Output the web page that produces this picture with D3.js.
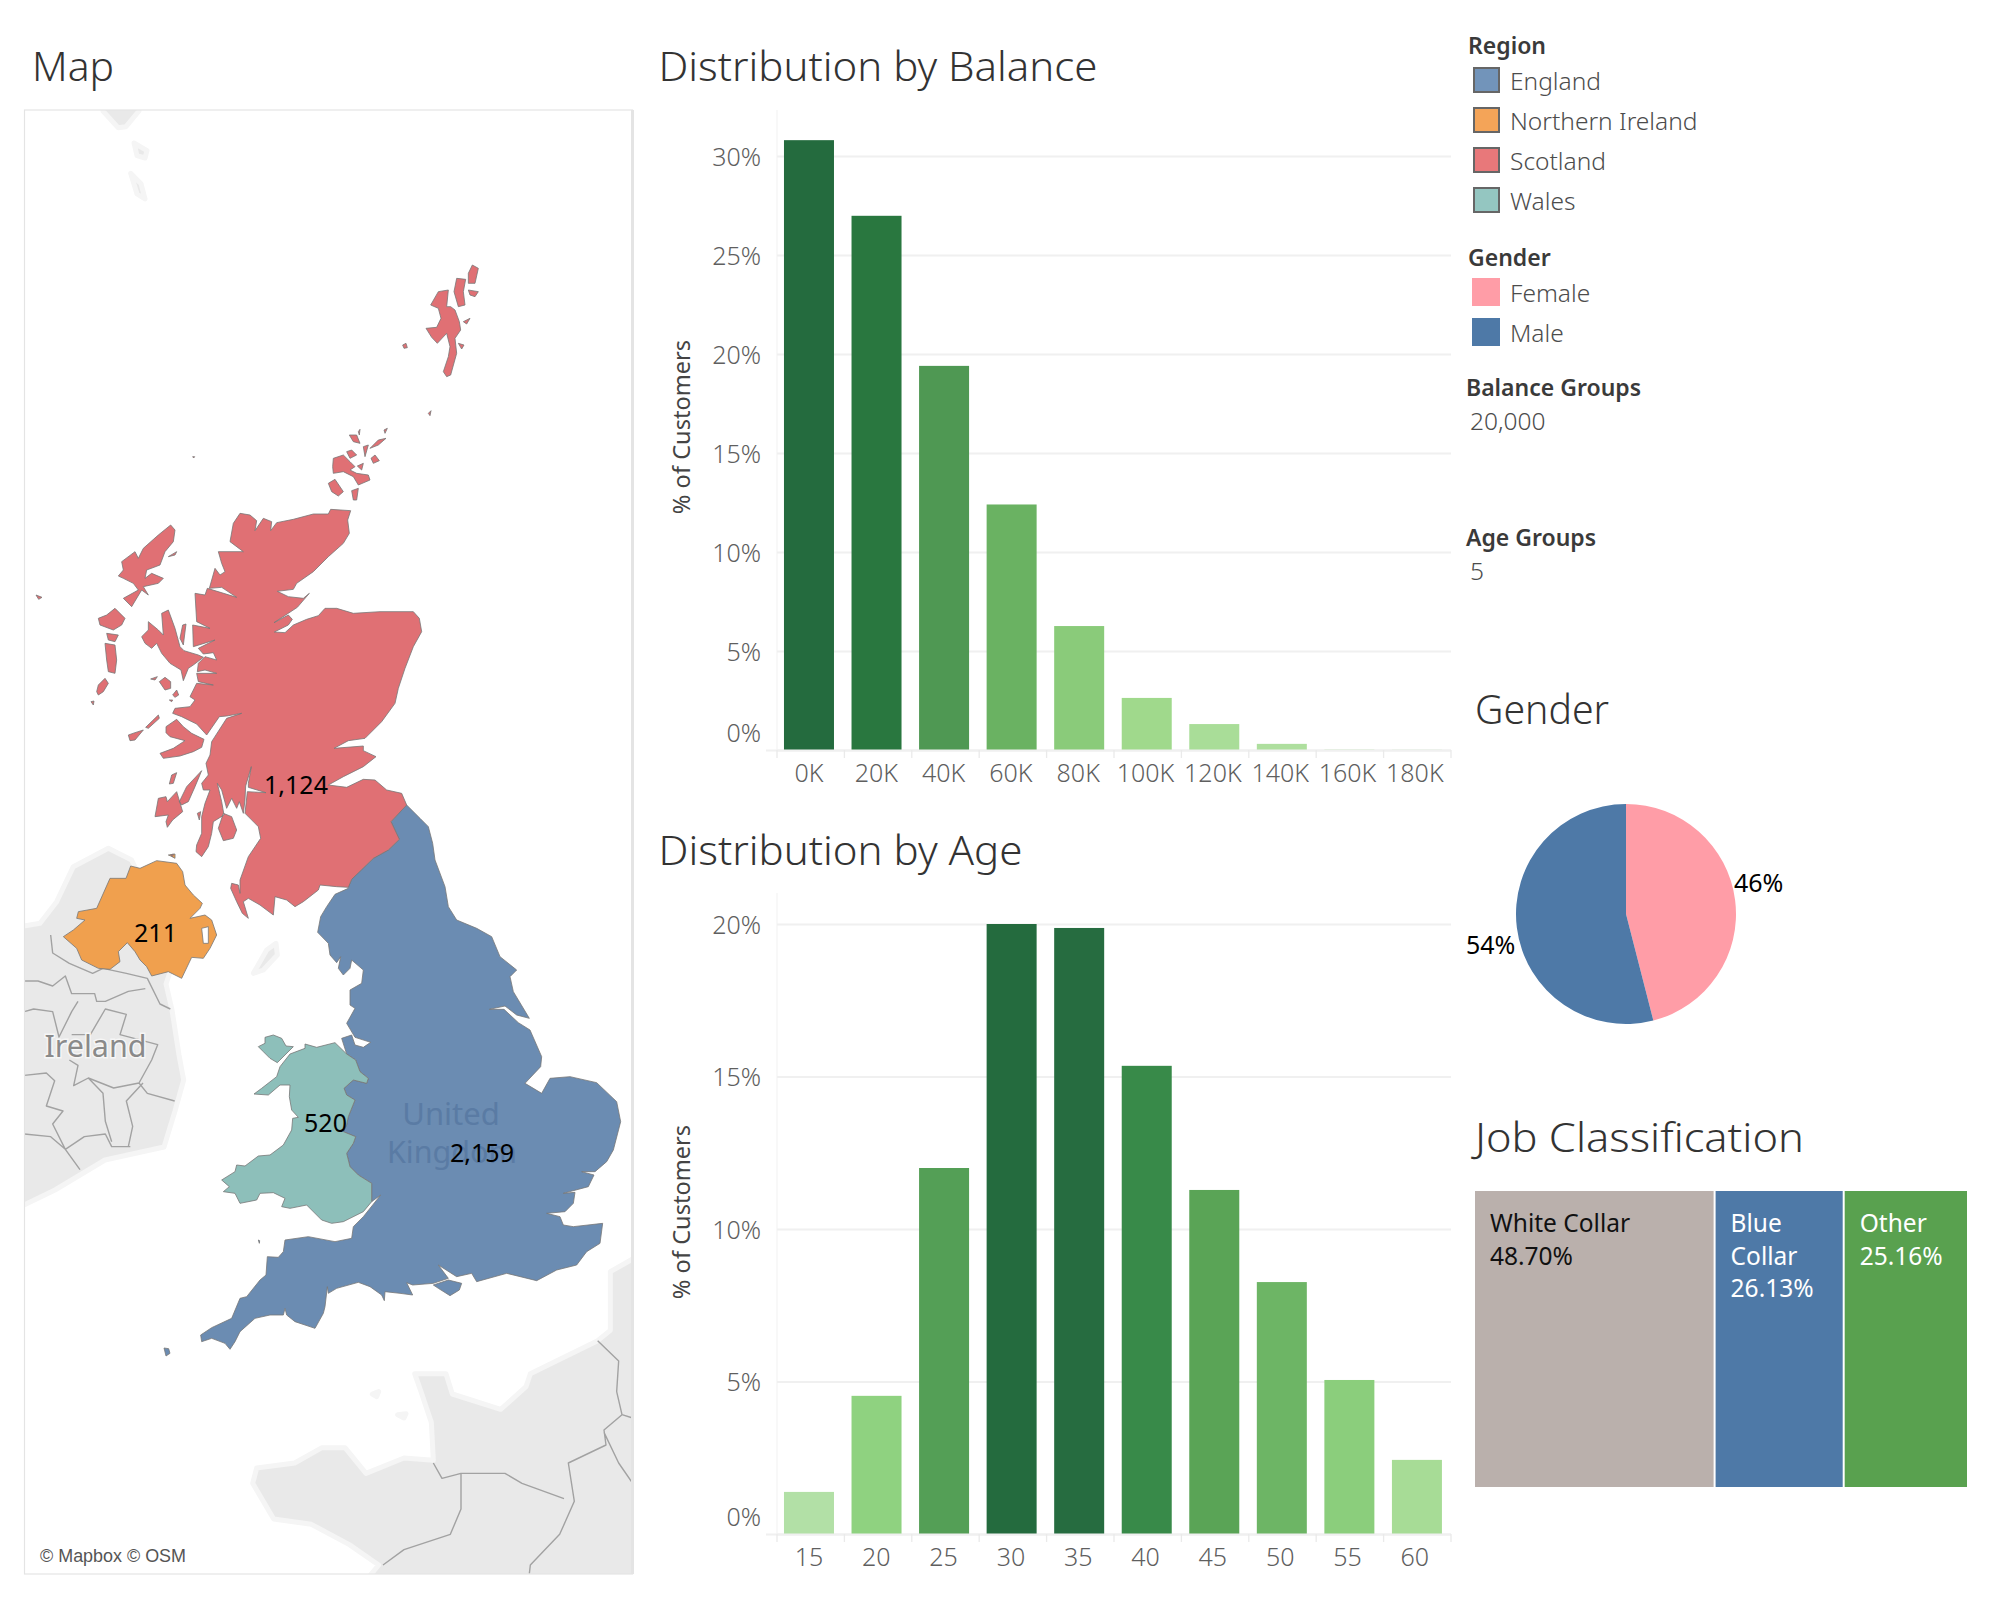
<!DOCTYPE html>
<html>
<head>
<meta charset="utf-8">
<title>Customer dashboard</title>
<script src="https://cdn.jsdelivr.net/npm/d3@7"></script>
<style>
html,body{margin:0;padding:0;background:#fff}
svg{display:block}
text{font-family:"Noto Sans",sans-serif}
</style>
</head>
<body>
<svg id="chart" width="2000" height="1600"></svg>
<script>
// ---- bar data ----
const balanceCategories = ["0K","20K","40K","60K","80K","100K","120K","140K","160K","180K"];
const balanceValues = [30.8,26.98,19.4,12.4,6.26,2.63,1.31,0.31,0.02,0.01];
const balanceColors = ["#246b3e","#29773f","#4f9853","#6ab262","#8acb7a","#a0d98c","#a9dd98","#aedf9e","#b2e0a6","#b2e0a6"];
const balanceTicks = [0,5,10,15,20,25,30];
const ageCategories = ["15","20","25","30","35","40","45","50","55","60"];
const ageValues = [1.38,4.53,12.0,20.0,19.87,15.35,11.28,8.26,5.05,2.43];
const ageColors = ["#b2e0a6","#8fd280","#549f56","#246b3e","#266c40","#388a49","#5aa456","#6db565","#8bce7c","#a7dc96"];
const ageTicks = [0,5,10,15,20];

// ---- gender and job data ----
const genderNames = ["Female","Male"];
const genderValues = [46,54];
const genderColors = ["#ff9da7","#4e79a7"];
const jobNames = ["White Collar","Blue Collar","Other"];
const jobValues = [48.70,26.13,25.16];
const jobColors = ["#bab0ac","#4e79a7","#59a14f"];
const jobTextColors = ["#111","#fff","#fff"];
const jobLines = [["White Collar","48.70%"],["Blue","Collar","26.13%"],["Other","25.16%"]];

// ---- legends ----
const regionNames = ["England","Northern Ireland","Scotland","Wales"];
const regionColors = ["#7294ba","#f4a458","#e8787a","#94c6c1"];
const regionMapColors = ["#6b8cb2","#f0a04e","#e07074","#8dbfba"];
const regionCounts = ["2,159","211","1,124","520"];

// ---- map outlines: [east, north] on a Web-Mercator grid, roughly 0.66 km per unit ----
const englandRings = [
 [[-346,1605],[-306,1565],[-281,1540],[-268,1490],[-261,1440],[-231,1360],[-221,1300],[-196,1260],[-136,1235],[-91,1210],[-66,1150],[-16,1110],[-36,1090],[-26,1045],[22,965],[-16,975],[-51,1002],[-98,992],[-54,992],[-11,952],[24,930],[59,850],[56,820],[9,770],[59,740],[84,785],[144,790],[224,772],[284,715],[296,655],[274,570],[254,535],[219,505],[179,505],[216,495],[199,460],[124,440],[159,443],[154,410],[129,385],[74,380],[114,370],[124,345],[154,340],[242,350],[234,290],[194,265],[164,225],[104,210],[44,178],[-46,200],[-136,175],[-151,200],[-196,190],[-251,225],[-221,185],[-266,170],[-328,165],[-346,172],[-328,135],[-366,140],[-411,145],[-413,118],[-421,135],[-456,160],[-491,173],[-556,155],[-581,140],[-584,160],[-591,100],[-596,80],[-621,35],[-651,45],[-681,55],[-706,75],[-711,95],[-716,75],[-756,75],[-801,65],[-846,25],[-861,-5],[-876,-28],[-891,-10],[-931,5],[-961,-5],[-964,15],[-931,37],[-871,65],[-846,125],[-826,130],[-786,180],[-768,195],[-764,250],[-731,248],[-716,265],[-711,300],[-641,310],[-561,295],[-511,305],[-506,340],[-476,370],[-424,435],[-451,415],[-451,470],[-491,495],[-516,520],[-526,560],[-506,590],[-499,610],[-536,625],[-526,645],[-521,670],[-501,720],[-526,735],[-534,755],[-506,780],[-466,770],[-461,785],[-486,805],[-499,840],[-526,858],[-541,905],[-511,915],[-501,885],[-476,878],[-454,893],[-501,908],[-526,950],[-501,995],[-516,1005],[-516,1050],[-481,1070],[-476,1110],[-511,1140],[-516,1115],[-536,1095],[-551,1115],[-544,1150],[-556,1132],[-576,1155],[-581,1190],[-613,1223],[-604,1270],[-586,1300],[-561,1337],[-521,1355],[-521,1358],[-511,1382],[-446,1445],[-401,1470],[-368,1502],[-393,1555]],
 [[-266,165],[-221,180],[-181,170],[-188,150],[-216,133],[-251,155]],
 [[-791,300],[-787,298],[-788,290]],
 [[-1074,-24],[-1060,-26],[-1056,-40],[-1068,-48]]
];
const northernIrelandRings = [
 [[-1376,1210],[-1346,1230],[-1311,1260],[-1336,1265],[-1331,1285],[-1276,1295],[-1236,1385],[-1188,1385],[-1174,1422],[-1146,1415],[-1096,1438],[-1036,1430],[-1018,1405],[-1011,1365],[-986,1335],[-959,1310],[-966,1295],[-996,1265],[-951,1275],[-931,1260],[-916,1215],[-936,1175],[-956,1145],[-991,1148],[-1021,1085],[-1061,1105],[-1111,1092],[-1126,1120],[-1146,1140],[-1161,1165],[-1184,1192],[-1211,1165],[-1206,1135],[-1236,1112],[-1271,1115],[-1321,1140],[-1336,1175]],
 [[-1061,1455],[-1041,1458],[-1041,1445],[-1054,1452]]
];
const strangfordHole = [[-961,1235],[-941,1240],[-941,1190],[-956,1190]];
const scotlandRings = [
 [[-846,2480],[-816,2475],[-796,2458],[-801,2428],[-776,2465],[-751,2455],[-754,2428],[-736,2452],[-686,2462],[-626,2478],[-581,2478],[-574,2492],[-514,2488],[-523,2460],[-518,2420],[-536,2390],[-581,2350],[-626,2305],[-676,2270],[-686,2252],[-734,2246],[-701,2230],[-656,2225],[-638,2240],[-674,2198],[-744,2152],[-701,2175],[-689,2162],[-701,2145],[-743,2124],[-711,2122],[-686,2145],[-646,2162],[-611,2173],[-591,2195],[-556,2195],[-506,2180],[-426,2185],[-366,2185],[-326,2185],[-308,2165],[-301,2125],[-326,2080],[-351,2015],[-371,1955],[-381,1910],[-421,1855],[-471,1805],[-521,1798],[-564,1775],[-476,1782],[-476,1768],[-438,1750],[-476,1720],[-536,1690],[-581,1665],[-526,1658],[-476,1682],[-441,1680],[-406,1650],[-361,1640],[-346,1605],[-393,1555],[-368,1502],[-401,1470],[-446,1445],[-511,1382],[-521,1358],[-556,1360],[-606,1365],[-611,1350],[-656,1315],[-681,1300],[-706,1320],[-741,1330],[-746,1275],[-786,1305],[-821,1325],[-836,1315],[-821,1265],[-839,1280],[-856,1315],[-874,1355],[-871,1370],[-851,1365],[-846,1340],[-846,1380],[-821,1450],[-784,1505],[-791,1540],[-831,1580],[-824,1645],[-768,1642],[-821,1658],[-821,1670],[-812,1720],[-829,1662],[-831,1620],[-836,1580],[-848,1615],[-856,1595],[-871,1625],[-886,1595],[-901,1650],[-914,1670],[-901,1615],[-894,1575],[-926,1555],[-931,1520],[-941,1480],[-961,1450],[-978,1465],[-976,1485],[-961,1520],[-961,1570],[-951,1610],[-936,1650],[-956,1650],[-961,1670],[-941,1695],[-948,1730],[-936,1755],[-931,1795],[-886,1865],[-841,1880],[-886,1872],[-908,1870],[-946,1815],[-976,1848],[-1001,1860],[-1021,1870],[-1048,1880],[-1041,1895],[-996,1900],[-981,1920],[-996,1930],[-976,1970],[-926,1965],[-971,1975],[-976,2000],[-916,2000],[-951,2010],[-974,2005],[-971,2030],[-951,2050],[-916,2040],[-926,2062],[-956,2058],[-971,2075],[-941,2090],[-921,2100],[-986,2080],[-988,2145],[-936,2135],[-976,2155],[-981,2240],[-951,2235],[-944,2255],[-856,2228],[-901,2258],[-938,2255],[-921,2315],[-906,2295],[-891,2305],[-901,2330],[-911,2365],[-836,2365],[-876,2395],[-866,2450]],
 [[-1141,2110],[-1121,2130],[-1121,2155],[-1091,2130],[-1076,2115],[-1081,2180],[-1061,2190],[-1041,2135],[-1026,2080],[-1014,2068],[-971,2055],[-956,2048],[-986,2025],[-1001,2015],[-1016,1978],[-1023,2010],[-1056,2030],[-1081,2060],[-1096,2090],[-1111,2075],[-1131,2090]],
 [[-1018,2145],[-1008,2148],[-1016,2085],[-1026,2105]],
 [[-1088,1975],[-1071,1988],[-1054,1975],[-1054,1955],[-1071,1950]],
 [[-1114,1983],[-1094,1990],[-1101,1980]],
 [[-1048,1935],[-1036,1950],[-1030,1935],[-1041,1928]],
 [[-1058,1920],[-1048,1920],[-1051,1915]],
 [[-1129,1838],[-1091,1875],[-1088,1865],[-1121,1835]],
 [[-1181,1815],[-1161,1822],[-1136,1830],[-1161,1800],[-1176,1798]],
 [[-1068,1840],[-1036,1862],[-1016,1840],[-991,1820],[-954,1802],[-961,1778],[-986,1765],[-1026,1752],[-1076,1745],[-1086,1760],[-1046,1775],[-1011,1798],[-1056,1810],[-1068,1822]],
 [[-1058,1668],[-1051,1695],[-1036,1702],[-1046,1670]],
 [[-1101,1570],[-1091,1625],[-1068,1630],[-1064,1615],[-1036,1645],[-1018,1585],[-1048,1560],[-1064,1538],[-1068,1555],[-1061,1575]],
 [[-1028,1615],[-1006,1660],[-961,1708],[-981,1660],[-1001,1615],[-1021,1605]],
 [[-974,1580],[-964,1585],[-968,1560]],
 [[-911,1535],[-896,1580],[-871,1570],[-856,1530],[-866,1505],[-896,1498]],
 [[-1054,1455],[-1046,1458],[-1048,1450]],
 [[-1054,2445],[-1041,2430],[-1046,2395],[-1071,2365],[-1086,2325],[-1126,2310],[-1131,2285],[-1111,2300],[-1076,2285],[-1091,2270],[-1136,2260],[-1121,2235],[-1141,2250],[-1171,2200],[-1196,2225],[-1151,2250],[-1166,2270],[-1196,2285],[-1211,2292],[-1196,2310],[-1201,2335],[-1161,2365],[-1151,2345],[-1136,2375],[-1091,2415]],
 [[-1061,2350],[-1036,2365],[-1041,2355]],
 [[-1271,2165],[-1246,2175],[-1221,2195],[-1191,2165],[-1201,2145],[-1226,2130],[-1266,2145]],
 [[-1246,2120],[-1211,2115],[-1221,2095],[-1241,2100]],
 [[-1251,2090],[-1221,2085],[-1216,2040],[-1221,2000],[-1241,2005],[-1246,2040]],
 [[-1276,1945],[-1271,1965],[-1251,1985],[-1241,1970],[-1256,1945],[-1271,1935]],
 [[-1293,1915],[-1284,1917],[-1286,1905]],
 [[-1458,2235],[-1440,2228],[-1450,2222]],
 [[-288,3035],[-256,3038],[-243,3065],[-251,3095],[-274,3105],[-251,3145],[-221,3150],[-226,3100],[-214,3100],[-201,3090],[-188,3055],[-184,3030],[-201,3005],[-196,2960],[-214,2895],[-226,2890],[-236,2905],[-221,2950],[-216,2980],[-226,3020],[-254,2990],[-271,3008]],
 [[-196,3185],[-169,3182],[-176,3145],[-171,3105],[-191,3100],[-204,3145]],
 [[-161,3200],[-149,3225],[-131,3215],[-141,3170],[-161,3170]],
 [[-161,3150],[-131,3145],[-141,3130],[-156,3135]],
 [[-176,3055],[-156,3065],[-166,3048]],
 [[-191,2990],[-174,2985],[-181,2973]],
 [[-358,2985],[-348,2990],[-344,2977],[-354,2975]],
 [[-281,2780],[-273,2788],[-276,2773]],
 [[-566,2645],[-536,2655],[-516,2635],[-501,2620],[-516,2610],[-496,2600],[-461,2595],[-456,2580],[-491,2565],[-506,2590],[-536,2605],[-566,2600],[-568,2620]],
 [[-581,2570],[-561,2582],[-536,2545],[-551,2532],[-571,2545]],
 [[-511,2548],[-491,2555],[-496,2520],[-506,2520]],
 [[-526,2665],[-511,2670],[-496,2655],[-516,2645]],
 [[-518,2715],[-496,2715],[-486,2690],[-506,2695]],
 [[-491,2725],[-486,2732],[-488,2715]],
 [[-456,2675],[-431,2700],[-408,2705],[-431,2685]],
 [[-453,2645],[-441,2655],[-428,2638],[-446,2630]],
 [[-476,2680],[-461,2685],[-471,2650]],
 [[-494,2622],[-476,2630],[-481,2610]],
 [[-414,2730],[-404,2735],[-411,2720]],
 [[-988,2650],[-982,2650],[-985,2646]]
];
const walesRings = [
 [[-804,738],[-781,755],[-736,790],[-726,820],[-696,858],[-651,875],[-651,888],[-616,878],[-561,892],[-526,858],[-499,840],[-486,805],[-461,785],[-466,770],[-506,780],[-534,755],[-526,735],[-501,720],[-521,670],[-526,645],[-536,625],[-499,610],[-506,590],[-526,560],[-516,520],[-491,495],[-451,470],[-451,415],[-476,385],[-516,365],[-536,355],[-571,350],[-601,360],[-646,405],[-696,395],[-721,400],[-711,425],[-746,442],[-786,440],[-796,420],[-846,410],[-861,440],[-896,445],[-878,460],[-901,480],[-861,505],[-856,525],[-831,522],[-791,552],[-756,555],[-716,585],[-691,630],[-688,665],[-671,668],[-691,690],[-698,730],[-696,765],[-726,765],[-761,735]],
 [[-791,880],[-771,890],[-771,908],[-746,915],[-721,905],[-708,882],[-686,880],[-734,832],[-756,845],[-776,865]]
];
const backgroundLand = [
 [[-1566,1230],[-1446,1250],[-1396,1315],[-1346,1420],[-1241,1475],[-1171,1440],[-1116,1320],[-1086,1170],[-1056,1104],[-1068,1068],[-1050,990],[-1029,855],[-1015,780],[-1041,687],[-1074,579],[-1251,540],[-1401,450],[-1494,405],[-1566,375]],
 [[-806,1100],[-766,1170],[-738,1190],[-734,1155],[-776,1110]],
 [[454,243],[332,243],[265,205],[265,29],[227,-2],[25,-101],[12,-140],[-64,-208],[-209,-162],[-228,-101],[-322,-101],[-303,-155],[-272,-247],[-266,-361],[-354,-354],[-468,-400],[-531,-323],[-600,-323],[-682,-369],[-796,-384],[-808,-430],[-745,-537],[-632,-553],[-518,-614],[-430,-675],[-556,-828],[454,-828]],
 [[-449,-162],[-430,-155],[-436,-170]],
 [[-373,-224],[-348,-221],[-354,-234]],
 [[-1257,3700],[-1257,3687],[-1212,3637],[-1188,3640],[-1149,3687],[-1149,3700]],
 [[-1164,3591],[-1125,3568],[-1131,3546],[-1155,3553]],
 [[-1174,3500],[-1143,3469],[-1131,3423],[-1155,3438]]
];
const borderLines = [
 [[-1414,1215],[-1408,1161],[-1358,1130],[-1288,1100],[-1257,1115],[-1187,1100],[-1124,1085],[-1086,1008],[-1055,993]],
 [[-1493,1077],[-1452,1077],[-1408,1062],[-1370,1092],[-1351,1039],[-1282,1039],[-1276,1016],[-1250,1016],[-1181,1046],[-1130,1054]],
 [[-1493,985],[-1465,993],[-1408,985],[-1389,909],[-1351,985],[-1332,1016]],
 [[-1351,916],[-1295,916],[-1250,993],[-1187,977],[-1206,916],[-1093,886],[-1111,840],[-1149,771],[-1124,740],[-1042,717]],
 [[-1493,794],[-1427,801],[-1402,778],[-1427,702],[-1377,687],[-1408,648],[-1370,572],[-1326,511]],
 [[-1493,618],[-1414,610],[-1370,572],[-1313,610],[-1250,618],[-1231,580],[-1175,580]],
 [[-1358,840],[-1332,824],[-1345,763],[-1301,786],[-1257,740],[-1250,656],[-1231,595]],
 [[-1137,771],[-1187,717],[-1168,641],[-1181,580]],
 [[-1301,786],[-1225,756],[-1149,771]],
 [[227,-2],[290,-63],[284,-155],[300,-224],[246,-270],[252,-315],[139,-369],[157,-484],[113,-583],[25,-675],[22,-701]],
 [[-266,-369],[-240,-415],[-183,-400],[-51,-400],[0,-430],[126,-476]],
 [[-183,-400],[-183,-507],[-215,-583],[-354,-629],[-417,-675]],
 [[246,-277],[290,-369],[332,-430]],
 [[300,-224],[332,-234]]
];

const svg = d3.select("#chart");
const titleColor = "#333";
const axisText = "#5f5f5f";
const gridColor = "#f0f0f0";

function title(txt, x, y, len) {
  const t = svg.append("text").attr("x", x).attr("y", y).attr("font-size", 40).attr("font-weight", 300).attr("fill", titleColor).text(txt);
  if (len) t.attr("textLength", len).attr("lengthAdjust", "spacingAndGlyphs");
}

// ---- Map ----
title("Map", 32, 80.5, 82);
const mapBox = {x: 24.5, y: 110, w: 608, h: 1464};
svg.append("clipPath").attr("id", "mapClip").append("rect")
  .attr("x", mapBox.x).attr("y", mapBox.y).attr("width", mapBox.w).attr("height", mapBox.h);
const map = svg.append("g").attr("clip-path", "url(#mapClip)");
const projection = d3.geoIdentity().reflectY(true).scale(1 / 3).translate([522, 1340]);
const geoPath = d3.geoPath(projection);
const closeRing = r => r.concat([r[0]]);
const asMulti = rings => ({type: "MultiPolygon", coordinates: rings.map(r => [closeRing(r)])});

map.append("path").datum(asMulti(backgroundLand)).attr("d", geoPath)
  .attr("fill", "#e9e9e9").attr("stroke", "#f5f5f5").attr("stroke-width", 5).attr("stroke-linejoin", "round");
map.append("path").datum({type: "MultiLineString", coordinates: borderLines}).attr("d", geoPath)
  .attr("fill", "none").attr("stroke", "#a2a2a2").attr("stroke-width", 1.4).attr("stroke-linejoin", "round");

const niPolys = northernIrelandRings.map((r, i) => i === 0 ? [closeRing(r), closeRing(strangfordHole)] : [closeRing(r)]);
const regionGeo = [
  asMulti(englandRings),
  {type: "MultiPolygon", coordinates: niPolys},
  asMulti(scotlandRings),
  asMulti(walesRings)
];
map.selectAll("path.region").data(regionGeo).join("path").attr("class", "region")
  .attr("d", geoPath).attr("fill", (d, i) => regionMapColors[i])
  .attr("fill-rule", "evenodd").attr("stroke", "#777").attr("stroke-width", 0.8).attr("stroke-linejoin", "round");

// base map place names
map.append("text").attr("x", 95.5).attr("y", 1057).attr("text-anchor", "middle").attr("font-size", 30.5)
  .attr("fill", "#8a8a8a").attr("stroke", "#f6f6f6").attr("stroke-width", 3).attr("paint-order", "stroke").text("Ireland");
map.append("text").attr("x", 451).attr("y", 1125).attr("text-anchor", "middle").attr("font-size", 31)
  .attr("fill", "#5a7ba4").text("United");
map.append("text").attr("x", 452).attr("y", 1163).attr("text-anchor", "middle").attr("font-size", 30.5)
  .attr("fill", "#5a7ba4").text("Kingdom");

// region counts
const countPositions = [[482,1162],[155.5,942],[296,793.5],[325.5,1132]];
map.selectAll("text.count").data(regionCounts).join("text").attr("class", "count")
  .attr("x", (d, i) => countPositions[i][0]).attr("y", (d, i) => countPositions[i][1])
  .attr("text-anchor", "middle").attr("font-size", 25).attr("fill", "#000").text(d => d);

map.append("rect").attr("x", 32).attr("y", 1544).attr("width", 162).attr("height", 24).attr("fill", "#fff").attr("fill-opacity", 0.7);
map.append("text").attr("x", 40).attr("y", 1562).attr("font-size", 17.5).attr("fill", "#555")
  .attr("textLength", 146).attr("lengthAdjust", "spacingAndGlyphs")
  .style("font-family", "'Liberation Sans',Arial,sans-serif").text("© Mapbox © OSM");

// map frame
svg.append("rect").attr("x", mapBox.x).attr("y", mapBox.y).attr("width", mapBox.w).attr("height", mapBox.h)
  .attr("fill", "none").attr("stroke", "#e4e4e4").attr("stroke-width", 1.2);
svg.append("line").attr("x1", mapBox.x + mapBox.w).attr("x2", mapBox.x + mapBox.w).attr("y1", mapBox.y).attr("y2", mapBox.y + mapBox.h)
  .attr("stroke", "#e4e4e4").attr("stroke-width", 3);

// ---- Bar charts ----
function barChart(opts) {
  const {categories, values, colors, ticks, yMax, y0, yTop, panelTop, titleText, titleY, axisTitleY, titleLen} = opts;
  title(titleText, 658.5, titleY, titleLen);
  const x = d3.scaleBand().domain(categories).range([775.2, 1450.7]).paddingInner(0.2598).paddingOuter(0.1299);
  const xLabel = d3.scaleBand().domain(categories).range([775.3, 1448.5]);
  const y = d3.scaleLinear().domain([0, yMax]).range([y0, yTop]);
  const left = 777, right = 1451;
  const g = svg.append("g");

  // vertical axis line behind marks
  g.append("line").attr("x1", left).attr("x2", left).attr("y1", panelTop).attr("y2", y0).attr("stroke", "#f5f5f5").attr("stroke-width", 1.3);

  const yAxis = d3.axisLeft(y).tickValues(ticks).tickFormat(d => d + "%").tickSize(-(right - left)).tickPadding(16);
  const ya = g.append("g").attr("transform", `translate(${left},0)`).call(yAxis);
  ya.select(".domain").remove();
  ya.selectAll(".tick line").attr("stroke", gridColor).attr("stroke-width", 2);
  ya.selectAll(".tick text").attr("font-size", 25).attr("font-weight", 300).attr("fill", axisText)
    .style("font-family", "'Noto Sans',sans-serif")
    .attr("dy", d => d === 0 ? "-9px" : "9px");

  g.selectAll("rect.bar").data(values).join("rect").attr("class", "bar")
    .attr("x", (d, i) => x(categories[i])).attr("width", x.bandwidth())
    .attr("y", d => y(d)).attr("height", d => y0 - y(d))
    .attr("fill", (d, i) => colors[i]);

  // zero line and category ticks over the bars
  g.append("line").attr("x1", 766).attr("x2", right).attr("y1", y0 + 0.5).attr("y2", y0 + 0.5)
    .attr("stroke", gridColor).attr("stroke-width", 2);
  g.selectAll("line.edge").data(d3.range(categories.length + 1)).join("line").attr("class", "edge")
    .attr("x1", i => left + i * (right - left) / categories.length).attr("x2", i => left + i * (right - left) / categories.length)
    .attr("y1", y0).attr("y2", y0 + 8).attr("stroke", "#eaeaea").attr("stroke-width", 1.3);

  const xAxis = d3.axisBottom(xLabel).tickSize(0);
  const xa = g.append("g").attr("transform", `translate(0,${y0})`).call(xAxis);
  xa.select(".domain").remove();
  xa.selectAll(".tick text").attr("font-size", 25).attr("font-weight", 300).attr("fill", axisText)
    .style("font-family", "'Noto Sans',sans-serif").attr("y", 32).attr("dy", 0);

  svg.append("text").attr("transform", `translate(690,${axisTitleY}) rotate(-90)`)
    .attr("text-anchor", "middle").attr("font-size", 23.6).attr("fill", "#444").text("% of Customers");
}

barChart({categories: balanceCategories, values: balanceValues, colors: balanceColors, ticks: balanceTicks,
  yMax: 30, y0: 750, yTop: 156, panelTop: 110, titleText: "Distribution by Balance", titleY: 80.5, axisTitleY: 427, titleLen: 439});
barChart({categories: ageCategories, values: ageValues, colors: ageColors, ticks: ageTicks,
  yMax: 20, y0: 1534, yTop: 924, panelTop: 893, titleText: "Distribution by Age", titleY: 864.5, axisTitleY: 1212, titleLen: 364});

// ---- Legends ----
function legendHead(txt, x, y) {
  svg.append("text").attr("x", x).attr("y", y).attr("font-size", 23).attr("font-weight", 600).attr("fill", "#3a3a3a").text(txt);
}
function legendItem(txt, x, y) {
  svg.append("text").attr("x", x).attr("y", y).attr("font-size", 24.5).attr("font-weight", 300).attr("fill", "#4c4c4c").text(txt);
}
legendHead("Region", 1468, 53.5);
const regionRowY = d3.scaleLinear().domain([0, 3]).range([68, 188]);
svg.selectAll("rect.regionSwatch").data(regionNames).join("rect").attr("class", "regionSwatch")
  .attr("x", 1474).attr("y", (d, i) => regionRowY(i)).attr("width", 25).attr("height", 24)
  .attr("fill", (d, i) => regionColors[i]).attr("stroke", "#666").attr("stroke-width", 2);
regionNames.forEach((n, i) => legendItem(n, 1510, regionRowY(i) + 22));
legendHead("Gender", 1468, 265.5);
const genderRowY = d3.scaleLinear().domain([0, 1]).range([278, 318]);
svg.selectAll("rect.genderSwatch").data(genderNames).join("rect").attr("class", "genderSwatch")
  .attr("x", 1472).attr("y", (d, i) => genderRowY(i)).attr("width", 28).attr("height", 28)
  .attr("fill", (d, i) => genderColors[i]);
genderNames.forEach((n, i) => legendItem(n, 1510, genderRowY(i) + 23.5));
legendHead("Balance Groups", 1466, 396);
legendItem("20,000", 1470, 430);
legendHead("Age Groups", 1466, 546);
legendItem("5", 1470, 580);

// ---- Pie ----
title("Gender", 1475, 723.5, 134);
const pie = d3.pie().sort(null).value(d => d);
const arc = d3.arc().innerRadius(0).outerRadius(110);
svg.append("g").attr("transform", "translate(1626,914)")
  .selectAll("path").data(pie(genderValues)).join("path")
  .attr("d", arc).attr("fill", (d, i) => genderColors[i]);
const pieLabelPos = [[1734, 892],[1466, 954]];
svg.selectAll("text.pieLabel").data(genderValues).join("text").attr("class", "pieLabel")
  .attr("x", (d, i) => pieLabelPos[i][0]).attr("y", (d, i) => pieLabelPos[i][1])
  .attr("font-size", 25).attr("fill", "#000").text(d => d + "%");

// ---- Treemap ----
title("Job Classification", 1475, 1151.5, 329);
const root = d3.hierarchy({children: jobNames.map((n, i) => ({name: n, value: jobValues[i], i}))}).sum(d => d.value);
d3.treemap().tile(d3.treemapDice).size([492, 296]).paddingInner(2)(root);
const tm = svg.append("g").attr("transform", "translate(1475,1191)");
const leaf = tm.selectAll("g").data(root.leaves()).join("g").attr("transform", d => `translate(${d.x0},${d.y0})`);
leaf.append("rect").attr("width", d => d.x1 - d.x0).attr("height", d => d.y1 - d.y0).attr("fill", d => jobColors[d.data.i]);
leaf.each(function(d) {
  d3.select(this).selectAll("text").data(jobLines[d.data.i]).join("text")
    .attr("x", 15).attr("y", (t, j) => 41 + j * 32.5)
    .attr("font-size", 24.5).attr("fill", jobTextColors[d.data.i]).text(t => t);
});
</script>
</body>
</html>
